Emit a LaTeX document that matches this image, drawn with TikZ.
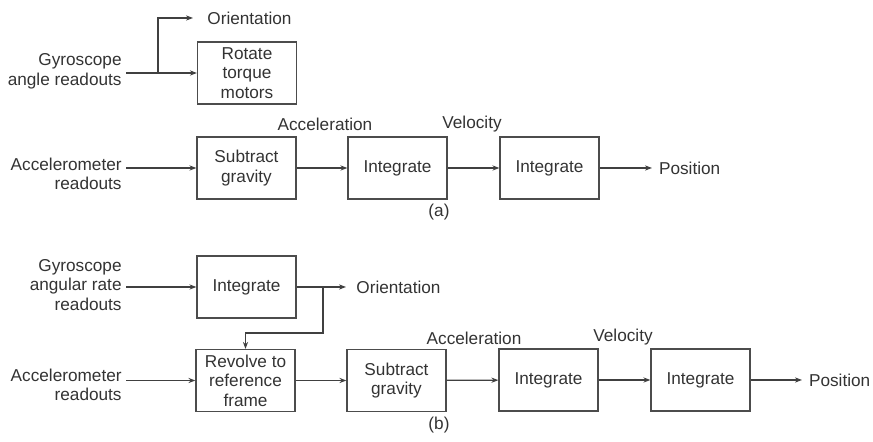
\documentclass[tikz,border=0pt]{standalone}
\usepackage{fontspec}
\setmainfont{Liberation Sans}
\usetikzlibrary{arrows.meta}
\tikzstyle{blk} = [draw=black!70, line width=0.6pt, minimum width=49.5pt, minimum height=31pt, align=center, inner sep=1pt]
\tikzstyle{lbl} = [align=right, anchor=east, inner sep=2pt]
\tikzstyle{sig} = [align=center, inner sep=0pt]
\tikzstyle{arr} = [-{Stealth[length=3.5pt,width=2.6pt]}, line width=0.6pt, draw=black!75]

\begin{document}
\begin{tikzpicture}[x=0.5pt, y=-0.5pt, font=\fontsize{8.6}{9.8}\selectfont, text=black!80]
\useasboundingbox (0,0) rectangle (873,442);
% (a) angle readouts
\node[lbl] (gyroA) at (126,71) {Gyroscope\\angle readouts};
\node[blk] (rotA) at (247,73) {Rotate\\torque\\motors};
\node[anchor=west, inner xsep=7pt] (orientA) at (193,18) {Orientation};
\coordinate (splitA) at (158,73);
\node[lbl] (accA) at (126,174) {Accelerometer\\readouts};
\node[blk] (subA) at (246.5,168) {Subtract\\gravity};
\node[blk] (intA) at (397.5,168) {Integrate};
\node[blk] (intAA) at (549.5,168) {Integrate};
\node[anchor=west] (posA) at (652,168) {Position};
\node[sig] (accelA) at (325,124) {Acceleration};
\node[sig] (velA) at (472,124) {Velocity};
\node[sig] (capA) at (439,212) {(a)};

\draw[arr] (gyroA.east |- rotA.west) -- (rotA.west);
\draw[arr] (splitA) |- (orientA.west);
\draw[arr] (accA.east |- subA.west) -- (subA.west);
\draw[arr] (subA) -- (intA);
\draw[arr] (intA) -- (intAA);
\draw[arr] (intAA) -- (posA);

% (b) angular rate readouts
\node[lbl] (gyroB) at (126,285) {Gyroscope\\angular rate\\readouts};
\node[blk] (intB) at (246.5,287) {Integrate};
\node[anchor=west, inner xsep=5pt] (orientB) at (346,287) {Orientation};
\coordinate (tapB) at (323,287);
\coordinate (bendB) at (323,333);
\node[lbl] (accB) at (126,385) {Accelerometer\\readouts};
\node[blk] (revB) at (245.5,380.5) {Revolve to\\reference\\frame};
\node[blk] (subB) at (396.5,380.5) {Subtract\\gravity};
\node[blk] (intB1) at (548.5,380) {Integrate};
\node[blk] (intB2) at (700.5,380) {Integrate};
\node[anchor=west] (posB) at (802,380) {Position};
\node[sig] (accelB) at (474,338) {Acceleration};
\node[sig] (velB) at (623,337) {Velocity};
\node[sig] (capB) at (439,425) {(b)};

\draw[arr] (gyroB.east |- intB.west) -- (intB.west);
\draw[arr] (intB) -- (orientB);
\draw[arr] (tapB) -- (bendB) -| (revB.north);
\draw[arr] (accB.east |- revB.west) -- (revB.west);
\draw[arr] (revB) -- (subB);
\draw[arr] (subB) -- (intB1);
\draw[arr] (intB1) -- (intB2);
\draw[arr] (intB2) -- (posB);
\end{tikzpicture}
\end{document}
